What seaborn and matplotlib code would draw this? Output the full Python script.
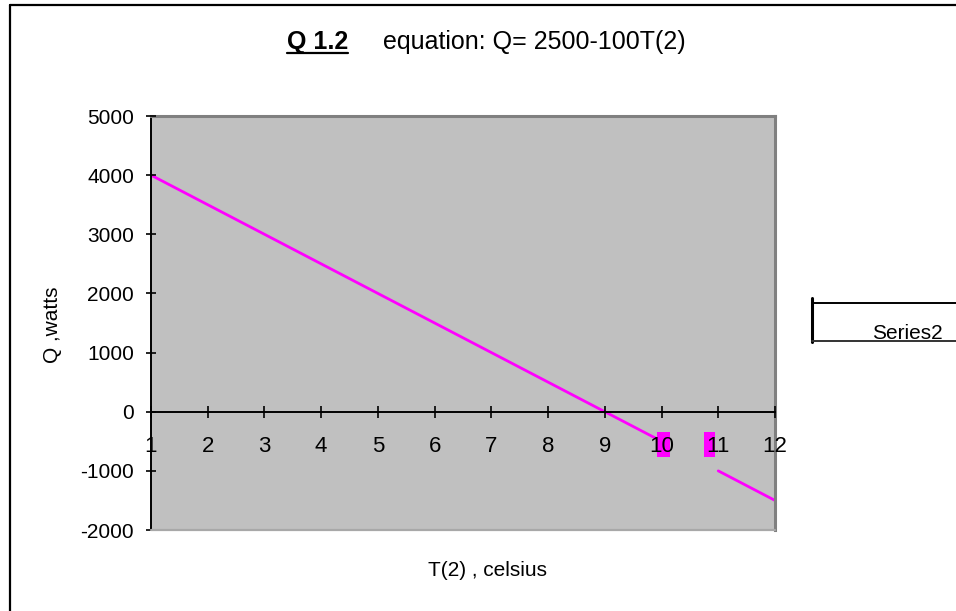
import matplotlib
matplotlib.use("Agg")
import matplotlib.pyplot as plt
from matplotlib.lines import Line2D
from matplotlib.patches import Rectangle
import pandas as pd
import seaborn as sns

# Heat flow Q (watts) for each temperature T(2) (celsius)
temps = [1, 2, 3, 4, 5, 6, 7, 8, 9, 10, 11, 12]
heat = [4000, 3500, 3000, 2500, 2000, 1500, 1000, 500, 0, -500, -1000, -1500]
# The plotted line is broken between 10 and 11
segment = [1, 1, 1, 1, 1, 1, 1, 1, 1, 1, 2, 2]
y_ticks = [-2000, -1000, 0, 1000, 2000, 3000, 4000, 5000]
x_tick_labels = [str(t) for t in temps]

sns.set_style("white")
plt.rcParams["font.family"] = ["Liberation Sans", "DejaVu Sans"]
plt.rcParams["text.color"] = "black"

W, H = 956, 611
MAGENTA = "#ff00ff"


def fx(px):
    return px / W


def fy(py):
    return 1 - py / H


df = pd.DataFrame({"T": temps, "Q": heat, "seg": segment})

fig = plt.figure(figsize=(W / 100, H / 100), dpi=100)
ax = fig.add_axes([fx(151), fy(530), (775 - 151) / W, (530 - 116) / H])
ax.set_facecolor("#c0c0c0")
ax.set_axisbelow(False)

sns.lineplot(data=df, x="T", y="Q", units="seg", estimator=None,
             color=MAGENTA, lw=2, ax=ax, legend=False, zorder=2)

ax.set_xlim(1, 12)
ax.set_ylim(-2000, 5000)
ax.set_xticks(temps)
ax.set_xticklabels(x_tick_labels)
ax.set_yticks(y_ticks)
ax.set_yticklabels([str(v) for v in y_ticks])
ax.set_xlabel("")
ax.set_ylabel("")

# category axis runs along Q = 0
ax.spines["bottom"].set_position(("data", 0))
ax.spines["bottom"].set_color("black")
ax.spines["bottom"].set_linewidth(1.4)
ax.spines["left"].set_color("black")
ax.spines["left"].set_linewidth(1.4)
for side in ("top", "right"):
    ax.spines[side].set_color("#808080")
    ax.spines[side].set_linewidth(2.2)
ax.axhline(-2000, color="#a8a8a8", lw=1.6, clip_on=False, zorder=2.6)

ax.tick_params(axis="x", direction="inout", length=8.6, width=1.2,
               pad=13, labelsize=16, colors="black", bottom=True)
ax.tick_params(axis="y", direction="inout", length=6.5, width=1.2,
               pad=9, labelsize=15, colors="black", left=True)

# magenta highlight behind parts of the 10 and 11 labels
for left, right in ((10 - 0.08, 10 + 0.15), (11 - 0.26, 11 - 0.05)):
    ax.add_patch(Rectangle((left, -761), right - left, 423, facecolor=MAGENTA,
                           edgecolor="none", zorder=2.2))

# chart title
t1 = fig.text(fx(287), fy(49), "Q 1.2", fontsize=18, fontweight="bold",
              va="baseline", ha="left", color="black")
fig.text(fx(383), fy(49), "equation: Q= 2500-100T(2)", fontsize=18,
         va="baseline", ha="left", color="black")

# axis titles
fig.text(fx(52), fy(325), "Q ,watts", fontsize=15, rotation=90,
         ha="center", va="center", color="black")
fig.text(fx(488), fy(571), "T(2) , celsius", fontsize=15,
         ha="center", va="center", color="black")

# legend box, cut off at the right edge
fig.add_artist(Line2D([fx(812), fx(812)], [fy(298), fy(342)], color="black", lw=2.2))
fig.add_artist(Line2D([fx(812), fx(956)], [fy(303), fy(303)], color="black", lw=1.4))
fig.add_artist(Line2D([fx(812), fx(956)], [fy(341), fy(341)], color="#333333", lw=1.4))
fig.text(fx(872), fy(339), "Series2", fontsize=15, va="baseline", ha="left",
         color="black")

# chart frame (left and top edges)
fig.add_artist(Line2D([fx(10), fx(10)], [fy(5), fy(611)], color="black", lw=1.6))
fig.add_artist(Line2D([fx(10), fx(956)], [fy(5), fy(5)], color="black", lw=1.6))

# underline under the bold title part
fig.canvas.draw()
bb = t1.get_window_extent(renderer=fig.canvas.get_renderer())
fig.add_artist(Line2D([bb.x0 / W, bb.x1 / W], [fy(52.5), fy(52.5)],
                      color="black", lw=1.6))

fig.savefig("out.png", dpi=100)
